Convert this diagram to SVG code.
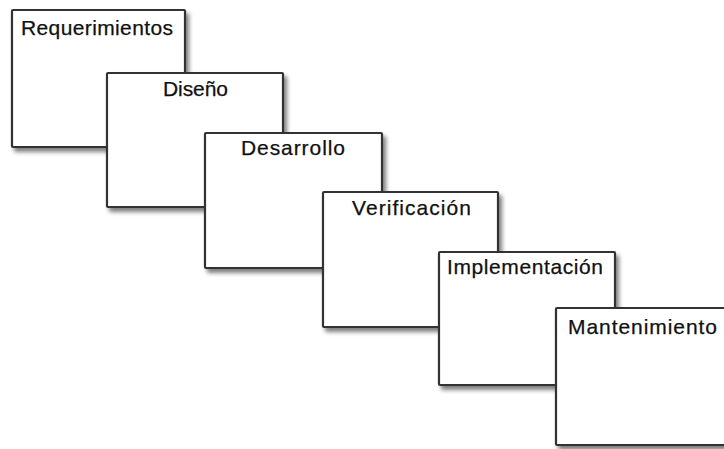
<svg xmlns="http://www.w3.org/2000/svg" width="724" height="449" viewBox="0 0 724 449">
  <defs>
    <filter id="shadow" x="-10%" y="-10%" width="130%" height="130%">
      <feDropShadow dx="3" dy="4" stdDeviation="2.2" flood-color="#000" flood-opacity="0.5"/>
    </filter>
  </defs>
  <style>
    .box { fill: #ffffff; stroke: #333333; stroke-width: 2.2; filter: url(#shadow); }
    .label { font-family: "Liberation Sans", Arial, sans-serif; font-size: 21px; fill: #111111; text-anchor: middle; stroke: #111111; stroke-width: 0.25; }
  </style>
  <rect width="724" height="449" fill="#ffffff"/>
  <!-- cascading stages, each drawn over the previous one -->
  <g id="requerimientos">
    <rect class="box" x="12" y="10" width="173" height="137" rx="1"/>
    <text class="label" x="97" y="35" textLength="152">Requerimientos</text>
  </g>
  <g id="diseno">
    <rect class="box" x="107" y="73" width="176" height="134" rx="1"/>
    <text class="label" x="195.5" y="96" textLength="65">Diseño</text>
  </g>
  <g id="desarrollo">
    <rect class="box" x="205" y="133" width="177" height="135" rx="1"/>
    <text class="label" x="293" y="155" textLength="104">Desarrollo</text>
  </g>
  <g id="verificacion">
    <rect class="box" x="323" y="192" width="175" height="135" rx="1"/>
    <text class="label" x="411.5" y="215" textLength="119">Verificación</text>
  </g>
  <g id="implementacion">
    <rect class="box" x="439" y="252" width="176" height="133" rx="1"/>
    <text class="label" x="525" y="274" textLength="156">Implementación</text>
  </g>
  <g id="mantenimiento">
    <rect class="box" x="556" y="308" width="176" height="137" rx="1"/>
    <text class="label" x="642.5" y="334" textLength="149">Mantenimiento</text>
  </g>
  <g id="connectors"/>
</svg>
